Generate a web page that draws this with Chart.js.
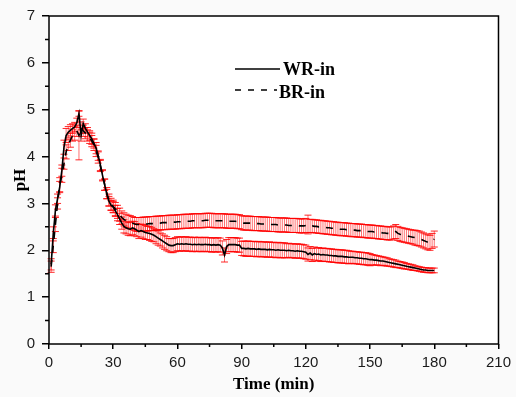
<!DOCTYPE html>
<html><head><meta charset="utf-8">
<script src="https://cdn.jsdelivr.net/npm/chart.js@4.4.1/dist/chart.umd.min.js"></script>
<style>html,body{margin:0;padding:0;background:#fafafa}#wrap{width:516px;height:397px;position:relative}canvas{display:block}</style>
</head><body><div id="wrap"><canvas id="c" width="516" height="397"></canvas></div>
<script>
const time = [
1,2,3,4,5,6,7,8,9,10,11,12,13,14,15,16,17,18,19,20,
21,22,23,24,25,26,27,28,29,30,31,32,33,34,35,36,37,38,39,40,
41,42,43,44,45,46,47,48,49,50,51,52,53,54,55,56,57,58,59,60,
61,62,63,64,65,66,67,68,69,70,71,72,73,74,75,76,77,78,79,80,
81,82,83,84,85,86,87,88,89,90,91,92,93,94,95,96,97,98,99,100,
101,102,103,104,105,106,107,108,109,110,111,112,113,114,115,116,117,118,119,120,
121,122,123,124,125,126,127,128,129,130,131,132,133,134,135,136,137,138,139,140,
141,142,143,144,145,146,147,148,149,150,151,152,153,154,155,156,157,158,159,160,
161,162,163,164,165,166,167,168,169,170,171,172,173,174,175,176,177,178,179,180];
const wrIn = [
1.70,2.35,2.85,3.10,3.35,3.70,4.20,4.45,4.52,4.56,
4.60,4.63,4.72,4.92,4.45,4.70,4.60,4.52,4.45,4.38,
4.28,4.18,4.02,3.82,3.60,3.40,3.20,3.05,2.96,2.92,
2.84,2.76,2.67,2.58,2.51,2.48,2.46,2.45,2.48,2.46,
2.43,2.40,2.42,2.40,2.38,2.37,2.36,2.34,2.32,2.29,
2.26,2.23,2.20,2.17,2.14,2.11,2.10,2.10,2.12,2.14,
2.13,2.14,2.13,2.14,2.13,2.13,2.12,2.13,2.12,2.13,
2.12,2.12,2.13,2.12,2.12,2.11,2.12,2.11,2.12,2.11,
2.05,1.90,2.08,2.12,2.12,2.12,2.12,2.11,2.11,2.04,
2.04,2.03,2.04,2.03,2.03,2.03,2.02,2.03,2.02,2.02,
2.02,2.01,2.02,2.01,2.01,2.00,2.01,2.00,2.00,2.00,
1.99,2.00,1.99,1.99,1.98,1.99,1.98,1.98,1.97,1.96,
1.91,1.94,1.90,1.93,1.91,1.92,1.90,1.91,1.90,1.90,
1.89,1.89,1.88,1.88,1.87,1.87,1.87,1.86,1.86,1.85,
1.85,1.85,1.84,1.84,1.83,1.83,1.82,1.82,1.81,1.80,
1.80,1.79,1.79,1.78,1.77,1.77,1.76,1.75,1.74,1.73,
1.72,1.71,1.70,1.69,1.68,1.67,1.66,1.65,1.64,1.63,
1.62,1.61,1.60,1.59,1.58,1.58,1.57,1.57,1.57,1.57];
const wrErr = [
0.12,0.15,0.12,0.10,0.12,0.12,0.15,0.15,0.12,0.12,
0.10,0.10,0.10,0.06,0.12,0.10,0.10,0.10,0.10,0.12,
0.10,0.12,0.10,0.12,0.10,0.12,0.10,0.10,0.10,0.12,
0.12,0.13,0.12,0.13,0.14,0.13,0.14,0.14,0.14,0.15,
0.14,0.15,0.14,0.15,0.15,0.14,0.15,0.15,0.14,0.15,
0.15,0.14,0.15,0.15,0.15,0.14,0.15,0.15,0.15,0.15,
0.15,0.15,0.15,0.15,0.15,0.15,0.15,0.15,0.15,0.15,
0.15,0.15,0.15,0.15,0.15,0.15,0.15,0.15,0.15,0.15,
0.15,0.15,0.15,0.15,0.15,0.15,0.15,0.15,0.15,0.15,
0.16,0.16,0.16,0.16,0.16,0.16,0.16,0.16,0.16,0.16,
0.16,0.16,0.16,0.16,0.16,0.16,0.16,0.16,0.16,0.16,
0.15,0.15,0.15,0.15,0.15,0.15,0.15,0.15,0.15,0.15,
0.14,0.14,0.14,0.14,0.14,0.14,0.14,0.14,0.14,0.14,
0.14,0.14,0.14,0.14,0.14,0.14,0.14,0.14,0.14,0.14,
0.13,0.13,0.13,0.13,0.13,0.13,0.13,0.13,0.13,0.13,
0.11,0.11,0.10,0.10,0.10,0.09,0.09,0.09,0.08,0.08,
0.08,0.08,0.07,0.07,0.07,0.07,0.06,0.06,0.06,0.06,
0.05,0.05,0.05,0.05,0.05,0.05,0.05,0.05,0.05,0.05];
const brIn = [
1.65,2.10,2.55,3.00,3.40,3.60,3.85,4.10,4.25,4.35,
4.45,4.50,4.55,4.45,4.62,4.55,4.50,4.45,4.40,4.33,
4.25,4.12,3.98,3.80,3.60,3.40,3.22,3.07,2.98,2.94,
2.88,2.82,2.76,2.70,2.66,2.63,2.61,2.60,2.58,2.56,
2.55,2.55,2.55,2.56,2.56,2.56,2.57,2.57,2.57,2.58,
2.58,2.58,2.59,2.59,2.59,2.60,2.60,2.60,2.60,2.61,
2.61,2.61,2.62,2.62,2.62,2.62,2.63,2.63,2.63,2.63,
2.63,2.63,2.64,2.64,2.64,2.64,2.63,2.63,2.63,2.63,
2.63,2.63,2.62,2.62,2.62,2.62,2.62,2.61,2.61,2.59,
2.58,2.58,2.58,2.58,2.57,2.57,2.57,2.57,2.56,2.56,
2.56,2.56,2.55,2.55,2.55,2.55,2.54,2.54,2.54,2.54,
2.54,2.53,2.53,2.53,2.53,2.53,2.52,2.52,2.52,2.53,
2.55,2.52,2.52,2.51,2.51,2.50,2.50,2.49,2.49,2.48,
2.48,2.47,2.47,2.46,2.46,2.45,2.45,2.45,2.44,2.44,
2.43,2.43,2.43,2.42,2.42,2.42,2.41,2.41,2.40,2.40,
2.40,2.39,2.39,2.38,2.38,2.37,2.37,2.36,2.36,2.36,
2.38,2.40,2.36,2.34,2.33,2.32,2.31,2.30,2.29,2.28,
2.27,2.26,2.25,2.23,2.21,2.19,2.17,2.16,2.20,2.24];
const brErr = [
0.12,0.15,0.15,0.12,0.15,0.15,0.12,0.15,0.12,0.15,
0.12,0.15,0.12,0.52,0.12,0.12,0.12,0.12,0.12,0.12,
0.12,0.12,0.12,0.12,0.12,0.12,0.12,0.13,0.13,0.13,
0.14,0.14,0.14,0.14,0.14,0.14,0.14,0.14,0.14,0.14,
0.15,0.15,0.15,0.15,0.15,0.15,0.15,0.15,0.15,0.15,
0.15,0.15,0.15,0.15,0.15,0.15,0.15,0.15,0.15,0.15,
0.15,0.15,0.15,0.15,0.15,0.15,0.15,0.15,0.15,0.15,
0.15,0.15,0.15,0.15,0.15,0.15,0.15,0.15,0.15,0.15,
0.15,0.15,0.15,0.15,0.15,0.15,0.15,0.15,0.15,0.15,
0.15,0.15,0.15,0.15,0.15,0.15,0.15,0.15,0.15,0.15,
0.15,0.15,0.15,0.15,0.15,0.15,0.15,0.15,0.15,0.15,
0.15,0.15,0.15,0.15,0.15,0.15,0.15,0.15,0.15,0.15,
0.20,0.14,0.14,0.14,0.14,0.14,0.14,0.14,0.14,0.14,
0.14,0.14,0.14,0.14,0.14,0.14,0.14,0.14,0.14,0.14,
0.14,0.14,0.14,0.14,0.14,0.14,0.14,0.14,0.14,0.14,
0.14,0.14,0.14,0.14,0.14,0.14,0.14,0.14,0.14,0.14,
0.14,0.15,0.15,0.15,0.15,0.15,0.15,0.15,0.15,0.15,
0.16,0.16,0.16,0.16,0.16,0.16,0.16,0.16,0.16,0.17];
const xTicks = [0,30,60,90,120,150,180,210];
const yTicks = [0,1,2,3,4,5,6,7];
const seriesLabels = ['WR-in','BR-in'];
const xTitle = 'Time (min)';
const yTitle = 'pH';

const toPts = (vals) => time.map((t, i) => ({x: t, y: vals[i]}));
const errs = [wrErr, brErr];

const bgPlugin = {
  id: 'bg',
  beforeDraw(chart) {
    const {ctx, chartArea: a, width, height} = chart;
    ctx.save();
    ctx.fillStyle = '#fafafa';
    ctx.fillRect(0, 0, width, height);
    ctx.fillStyle = '#ffffff';
    ctx.fillRect(a.left, a.top, a.right - a.left, a.bottom - a.top);
    ctx.restore();
  }
};

const errPlugin = {
  id: 'errbars',
  beforeDatasetsDraw(chart) {
    const {ctx, scales: {x, y}} = chart;
    ctx.save();
    chart.data.datasets.forEach((ds, di) => {
      const e = errs[di];
      ds.data.forEach((p, i) => {
        const px = x.getPixelForValue(p.x);
        const yt = y.getPixelForValue(p.y + e[i]);
        const yb = y.getPixelForValue(p.y - e[i]);
        ctx.strokeStyle = 'rgba(255,0,0,0.62)';
        ctx.lineWidth = 0.9;
        ctx.beginPath();
        ctx.moveTo(px, yt); ctx.lineTo(px, yb);
        ctx.stroke();
        ctx.strokeStyle = 'rgba(255,0,0,0.85)';
        ctx.lineWidth = 1;
        ctx.beginPath();
        ctx.moveTo(px - 3.5, yt); ctx.lineTo(px + 3.5, yt);
        ctx.moveTo(px - 3.5, yb); ctx.lineTo(px + 3.5, yb);
        ctx.stroke();
      });
    });
    ctx.restore();
  }
};

const framePlugin = {
  id: 'frame',
  afterDraw(chart) {
    const {ctx, chartArea: a, scales: {x, y}} = chart;
    ctx.save();
    ctx.strokeStyle = '#000';
    ctx.lineWidth = 1.5;
    ctx.strokeRect(a.left, a.top, a.right - a.left, a.bottom - a.top);
    ctx.beginPath();
    for (let i = 0; i < xTicks.length - 1; i++) {
      const px = x.getPixelForValue((xTicks[i] + xTicks[i + 1]) / 2);
      ctx.moveTo(px, a.bottom); ctx.lineTo(px, a.bottom + 3);
    }
    for (let i = 0; i < yTicks.length - 1; i++) {
      const py = y.getPixelForValue((yTicks[i] + yTicks[i + 1]) / 2);
      ctx.moveTo(a.left, py); ctx.lineTo(a.left - 4, py);
    }
    ctx.stroke();
    const lx = a.left + 186, ly1 = a.top + 53, ly2 = a.top + 74;
    ctx.lineWidth = 1.7;
    ctx.beginPath();
    ctx.moveTo(lx, ly1); ctx.lineTo(lx + 45, ly1);
    ctx.stroke();
    ctx.setLineDash([6, 7]);
    ctx.beginPath();
    ctx.moveTo(lx, ly2); ctx.lineTo(lx + 42, ly2);
    ctx.stroke();
    ctx.setLineDash([]);
    ctx.fillStyle = '#000';
    ctx.font = 'bold 18px "Liberation Serif", "Times New Roman", serif';
    ctx.textBaseline = 'middle';
    ctx.textAlign = 'left';
    ctx.fillText(seriesLabels[0], lx + 48, ly1 + 1);
    ctx.fillText(seriesLabels[1], lx + 44, ly2 + 3);
    ctx.restore();
  }
};

new Chart(document.getElementById('c'), {
  type: 'line',
  data: {
    datasets: [
      {label: seriesLabels[0], data: toPts(wrIn), borderColor: '#000', borderWidth: 1.6, pointRadius: 0, tension: 0, fill: false},
      {label: seriesLabels[1], data: toPts(brIn), borderColor: '#000', borderWidth: 1.6, borderDash: [7, 7], pointRadius: 0, tension: 0, fill: false}
    ]
  },
  options: {
    responsive: false,
    devicePixelRatio: 1,
    animation: false,
    layout: {padding: {left: 0, right: 11, top: 10, bottom: 0}},
    plugins: {legend: {display: false}, tooltip: {enabled: false}},
    scales: {
      x: {
        type: 'linear',
        min: xTicks[0], max: xTicks[xTicks.length - 1],
        afterBuildTicks: s => { s.ticks = xTicks.map(v => ({value: v})); },
        afterFit: s => { s.height = 53; },
        border: {display: false},
        grid: {drawOnChartArea: false, drawTicks: true, tickLength: 5, color: '#000', lineWidth: 1.5},
        ticks: {color: '#1a1a1a', font: {family: '"Liberation Sans", Arial, sans-serif', size: 15}, padding: 5, maxRotation: 0, autoSkip: false},
        title: {display: true, text: xTitle, color: '#000', font: {family: '"Liberation Serif", "Times New Roman", serif', size: 17, weight: 'bold'}, padding: {top: 0, bottom: 2}}
      },
      y: {
        type: 'linear',
        min: yTicks[0], max: yTicks[yTicks.length - 1],
        afterBuildTicks: s => { s.ticks = yTicks.map(v => ({value: v})); },
        afterFit: s => { s.width = 49; },
        border: {display: false},
        grid: {drawOnChartArea: false, drawTicks: true, tickLength: 7, color: '#000', lineWidth: 1.5},
        ticks: {color: '#1a1a1a', font: {family: '"Liberation Sans", Arial, sans-serif', size: 15}, padding: 7, autoSkip: false},
        title: {display: true, text: yTitle, color: '#000', font: {family: '"Liberation Serif", "Times New Roman", serif', size: 17, weight: 'bold'}, padding: {top: 10, bottom: 0}}
      }
    }
  },
  plugins: [bgPlugin, errPlugin, framePlugin]
});
</script>
</body></html>
